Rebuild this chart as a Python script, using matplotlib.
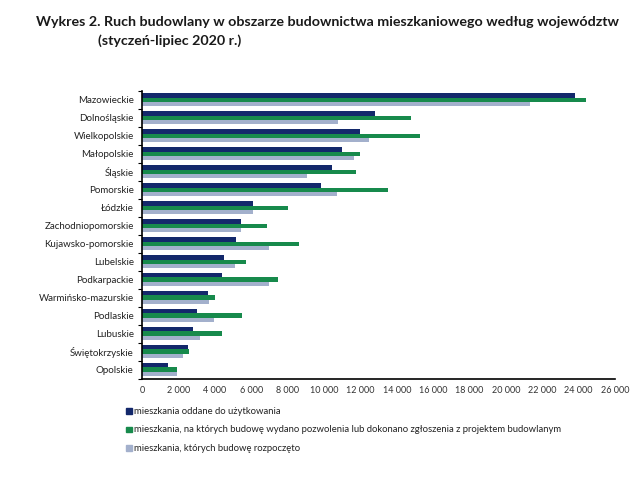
import matplotlib.pyplot as plt
import matplotlib.ticker as mticker
from matplotlib.patches import Rectangle
import numpy as np

regions = ['Mazowieckie', 'Dolnośląskie', 'Wielkopolskie', 'Małopolskie', 'Śląskie',
           'Pomorskie', 'Łódzkie', 'Zachodniopomorskie', 'Kujawsko-pomorskie', 'Lubelskie',
           'Podkarpackie', 'Warmińsko-mazurskie', 'Podlaskie', 'Lubuskie',
           'Świętokrzyskie', 'Opolskie']

oddane = [23800, 12800, 12000, 10970, 10440, 9820, 6100, 5420, 5160, 4500,
          4420, 3610, 3020, 2780, 2520, 1410]
pozwolenia = [24400, 14800, 15300, 11980, 11750, 13500, 8000, 6850, 8600, 5690,
              7480, 4010, 5520, 4400, 2580, 1900]
rozpoczete = [21350, 10770, 12500, 11670, 9070, 10690, 6100, 5420, 6980, 5120,
              6960, 3670, 3950, 3200, 2260, 1900]

seriesLabels = ['mieszkania oddane do użytkowania',
                'mieszkania, na których budowę wydano pozwolenia lub dokonano zgłoszenia z projektem budowlanym',
                'mieszkania, których budowę rozpoczęto']
colors = ['#13286b', '#178a4c', '#a3b0cc']

plt.rcParams['font.family'] = ['Lato', 'DejaVu Sans']

fig = plt.figure(figsize=(6.4, 4.86), dpi=100)
ax = fig.add_axes([0.222, 0.221, 0.739, 0.592])

n = len(regions)
y = np.arange(n)
h = 0.245
for k, vals in enumerate([oddane, pozwolenia, rozpoczete]):
    ax.barh(y + (k - 1) * h, vals, height=h, color=colors[k])

ax.set_ylim(n - 0.5, -0.5)
ax.set_xlim(0, 26000)
ax.set_yticks(y)
ax.set_yticklabels(regions, fontsize=7, color='#222222')
ax.set_yticks(np.arange(n + 1) - 0.5, minor=True)
ax.tick_params(axis='y', which='major', length=0, pad=6)
ax.tick_params(axis='y', which='minor', length=3, width=0.8)
ax.set_xticks(np.arange(0, 26001, 2000))
ax.xaxis.set_major_formatter(mticker.FuncFormatter(lambda v, p: f'{int(v):,}'.replace(',', ' ')))
ax.tick_params(axis='x', length=0, labelsize=6.5, labelcolor='#333333', pad=5)
for s in ['top', 'right']:
    ax.spines[s].set_visible(False)
ax.spines['left'].set_linewidth(1.2)
ax.spines['bottom'].set_linewidth(1.2)

fig.text(0.056, 0.955, 'Wykres 2. Ruch budowlany w obszarze budownictwa mieszkaniowego według województw',
         fontsize=10.25, fontweight='bold', va='center', color='#1a1a1a')
fig.text(0.153, 0.917, '(styczeń-lipiec 2020 r.)', fontsize=10.25, fontweight='bold', va='center', color='#1a1a1a')

for k, lab in enumerate(seriesLabels):
    yy = 1 - (411 + k * 18.5) / 486
    fig.patches.append(Rectangle((0.197, yy - 0.006), 0.009, 0.012, transform=fig.transFigure,
                                 color=colors[k]))
    fig.text(0.209, yy, lab, fontsize=6.8, va='center', color='#222222')

fig.savefig('out.png', dpi=100)
